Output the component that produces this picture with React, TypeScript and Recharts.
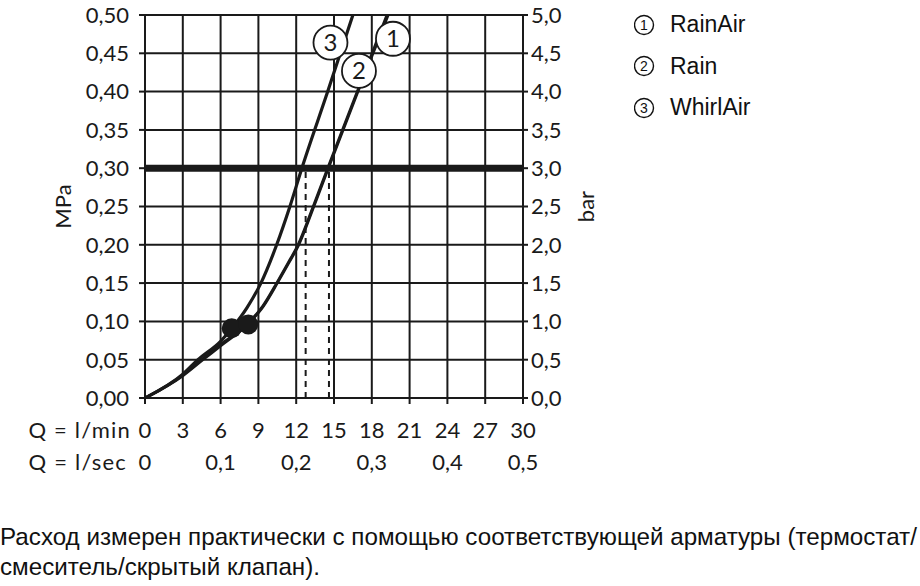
import React from 'react';
import {
    ComposedChart,
    Line,
    XAxis,
    YAxis,
    CartesianGrid,
    ReferenceLine,
    ReferenceDot,
} from 'recharts';

// Шкалы
const flowMin = [0, 3, 6, 9, 12, 15, 18, 21, 24, 27, 30];
const flowSec = [0, 0.1, 0.2, 0.3, 0.4, 0.5];
const pressureMpa = [0, 0.05, 0.1, 0.15, 0.2, 0.25, 0.3, 0.35, 0.4, 0.45, 0.5];
const pressureBar = [0, 0.5, 1, 1.5, 2, 2.5, 3, 3.5, 4, 4.5, 5];

// Кривые (Q л/мин, P МПа)
const rainAir = [
    { q: 0, p: 0 }, { q: 3, p: 0.029 }, { q: 4.6, p: 0.05 }, { q: 6, p: 0.068 },
    { q: 8.2, p: 0.097 }, { q: 9.4, p: 0.12 }, { q: 10.5, p: 0.15 }, { q: 11.4, p: 0.176 },
    { q: 12.2, p: 0.2 }, { q: 13.4, p: 0.25 }, { q: 14.55, p: 0.3 }, { q: 16.9, p: 0.4 },
    { q: 19.3, p: 0.5 },
];
const rain = [
    { q: 0, p: 0 }, { q: 3, p: 0.03 }, { q: 4.5, p: 0.05 }, { q: 6, p: 0.07 },
    { q: 8.15, p: 0.097 }, { q: 9.35, p: 0.12 }, { q: 10.45, p: 0.15 }, { q: 11.35, p: 0.176 },
    { q: 12.15, p: 0.2 }, { q: 13.35, p: 0.25 }, { q: 14.5, p: 0.3 }, { q: 16.85, p: 0.4 },
    { q: 19.2, p: 0.5 },
];
const whirlAir = [
    { q: 0, p: 0 }, { q: 3, p: 0.031 }, { q: 4.2, p: 0.05 }, { q: 6, p: 0.074 },
    { q: 6.9, p: 0.091 }, { q: 8.1, p: 0.118 }, { q: 9.2, p: 0.15 }, { q: 10.45, p: 0.2 },
    { q: 11.5, p: 0.25 }, { q: 12.45, p: 0.3 }, { q: 14.5, p: 0.4 }, { q: 16.5, p: 0.5 },
];

// Границы шкал l/sec и bar
const axisExtent = [{ s: 0, b: 0 }, { s: 0.5, b: 5 }];

// Рабочее давление и расходы при нём
const workPressure = 0.3;
const workFlows = [12.75, 14.6];

// Точки минимального давления
const minPoints = [{ q: 6.88, p: 0.091 }, { q: 8.2, p: 0.096 }];

// Номера кривых на графике
const curveTags = [
    { q: 19.68, p: 0.469, tag: '1' },
    { q: 16.98, p: 0.427, tag: '2' },
    { q: 14.72, p: 0.464, tag: '3' },
];

const legendItems = [
    { mark: '1', name: 'RainAir' },
    { mark: '2', name: 'Rain' },
    { mark: '3', name: 'WhirlAir' },
];

const ink = '#1a1a1a';
const axisFont = 'Lato, "Liberation Sans", sans-serif';

const comma = (v: number, digits: number) => v.toFixed(digits).replace('.', ',');

const MinTick = (props: any) => {
    const { x, y, payload } = props;
    return (
        <g>
            {payload.value === 0 && (
                <text x={x - 14} y={y + 34} textAnchor="end" fontSize={22} letterSpacing={1.2} fill={ink} fontFamily={axisFont}>
                    Q = l/min
                </text>
            )}
            <text x={x} y={y + 34} textAnchor="middle" fontSize={22} fill={ink} fontFamily={axisFont}>
                {payload.value}
            </text>
        </g>
    );
};

const SecTick = (props: any) => {
    const { x, y, payload } = props;
    return (
        <g>
            {payload.value === 0 && (
                <text x={x - 18} y={y + 34} textAnchor="end" fontSize={22} letterSpacing={1.2} fill={ink} fontFamily={axisFont}>
                    Q = l/sec
                </text>
            )}
            <text x={x} y={y + 34} textAnchor="middle" fontSize={22} fill={ink} fontFamily={axisFont}>
                {payload.value === 0 ? '0' : comma(payload.value, 1)}
            </text>
        </g>
    );
};

const SideLabel = (text: string, dx: number) => (props: any) => {
    const { viewBox } = props;
    const cx = viewBox.x + dx;
    const cy = viewBox.y + viewBox.height / 2;
    return (
        <text x={cx} y={cy} transform={`rotate(-90 ${cx} ${cy})`} textAnchor="middle" dominantBaseline="central"
            fontSize={22} fill={ink} fontFamily={axisFont}>
            {text}
        </text>
    );
};

export default function App() {
    return (
        <div style={{ position: 'absolute', left: 0, top: 0, width: 920, height: 586, background: '#fff' }}>
            <ComposedChart width={920} height={480} margin={{ top: 15, right: 337, left: 0, bottom: 18 }}>
                <CartesianGrid xAxisId="min" yAxisId="mpa" stroke={ink} strokeWidth={2} />
                <XAxis
                    xAxisId="min"
                    dataKey="q"
                    type="number"
                    domain={[0, 30]}
                    ticks={flowMin}
                    interval={0}
                    allowDataOverflow
                    height={32}
                    stroke={ink}
                    strokeWidth={2}
                    tickSize={6}
                    tickMargin={0}
                    tick={<MinTick />}
                />
                <XAxis
                    xAxisId="sec"
                    dataKey="s"
                    type="number"
                    domain={[0, 0.5]}
                    ticks={flowSec}
                    interval={0}
                    allowDataOverflow
                    height={32}
                    axisLine={false}
                    tickLine={false}
                    tickSize={6}
                    tickMargin={0}
                    tick={<SecTick />}
                />
                <YAxis
                    yAxisId="mpa"
                    type="number"
                    domain={[0, 0.5]}
                    ticks={pressureMpa}
                    interval={0}
                    allowDataOverflow
                    width={145}
                    stroke={ink}
                    strokeWidth={2}
                    tickSize={6}
                    tickMargin={10}
                    tick={{ fontSize: 22, fill: ink, fontFamily: axisFont }}
                    tickFormatter={(v: number) => comma(v, 2)}
                    label={{ content: SideLabel('MPa', 62) }}
                />
                <YAxis
                    yAxisId="bar"
                    orientation="right"
                    type="number"
                    domain={[0, 5]}
                    ticks={pressureBar}
                    interval={0}
                    allowDataOverflow
                    width={60}
                    stroke={ink}
                    strokeWidth={2}
                    tickSize={5}
                    tickMargin={3}
                    tick={{ fontSize: 22, fill: ink, fontFamily: axisFont, textAnchor: 'start' }}
                    tickFormatter={(v: number) => comma(v, 1)}
                    label={{ content: SideLabel('bar', 62) }}
                />

                <Line xAxisId="sec" yAxisId="bar" data={axisExtent} dataKey="b" stroke="none" dot={false} activeDot={false} isAnimationActive={false} />

                {workFlows.map((q, i) => (
                    <ReferenceLine
                        key={`flow-${i}`}
                        xAxisId="min"
                        yAxisId="mpa"
                        segment={[{ x: q, y: 0 }, { x: q, y: workPressure }]}
                        stroke={ink}
                        strokeWidth={2}
                        strokeDasharray="6 5"
                    />
                ))}

                <Line xAxisId="min" yAxisId="mpa" data={rainAir} dataKey="p" type="monotone" stroke={ink} strokeWidth={2.8} dot={false} isAnimationActive={false} />
                <Line xAxisId="min" yAxisId="mpa" data={rain} dataKey="p" type="monotone" stroke={ink} strokeWidth={2.8} dot={false} isAnimationActive={false} />
                <Line xAxisId="min" yAxisId="mpa" data={whirlAir} dataKey="p" type="monotone" stroke={ink} strokeWidth={3.2} dot={false} isAnimationActive={false} />

                <ReferenceLine xAxisId="min" yAxisId="mpa" y={workPressure} stroke={ink} strokeWidth={7} />

                {minPoints.map((pt, i) => (
                    <ReferenceDot key={`min-${i}`} xAxisId="min" yAxisId="mpa" x={pt.q} y={pt.p} r={10} fill={ink} stroke="none" />
                ))}

                {curveTags.map((t) => (
                    <ReferenceDot
                        key={`tag-${t.tag}`}
                        xAxisId="min"
                        yAxisId="mpa"
                        x={t.q}
                        y={t.p}
                        r={17}
                        fill="#fff"
                        stroke={ink}
                        strokeWidth={1.8}
                        label={{ value: t.tag, position: 'center', fontSize: 24, fill: ink, fontFamily: axisFont }}
                    />
                ))}
            </ComposedChart>

            <div style={{ position: 'absolute', left: 634, top: 4, fontFamily: '"Liberation Sans", Arial, sans-serif', fontSize: 23, color: '#111' }}>
                {legendItems.map((it) => (
                    <div key={it.name} style={{ height: 41.5, display: 'flex', alignItems: 'center' }}>
                        <svg width={36} height={22} style={{ flex: 'none' }}>
                            <circle cx={10} cy={11} r={9.5} fill="none" stroke="#111" strokeWidth={1.4} />
                            <text x={10} y={11} textAnchor="middle" dominantBaseline="central" fontSize={14} fill="#111" fontFamily='"Liberation Sans", Arial, sans-serif'>
                                {it.mark}
                            </text>
                        </svg>
                        <span>{it.name}</span>
                    </div>
                ))}
            </div>

            <div style={{ position: 'absolute', left: 0, top: 522, width: 920, fontFamily: '"Liberation Sans Narrow", "Liberation Sans", Arial, sans-serif', fontSize: 24.2, lineHeight: '30px', color: '#111', whiteSpace: 'nowrap' }}>
                Расход измерен практически с помощью соответствующей арматуры (термостат/
                <br />
                смеситель/скрытый клапан).
            </div>
        </div>
    );
}
